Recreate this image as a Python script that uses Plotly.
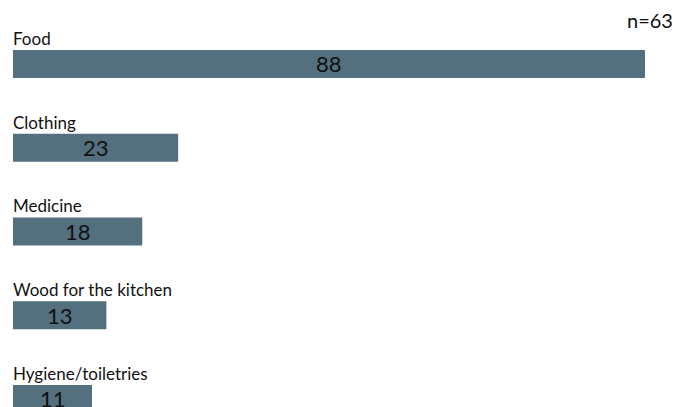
import plotly.graph_objects as go

categories = ["Food", "Clothing", "Medicine", "Wood for the kitchen", "Hygiene/toiletries"]
values = [88, 23, 18, 13, 11]
sample_note = "n=63"

bar_color = "#546f7e"
font_family = "Lato, 'Open Sans', sans-serif"

fig = go.Figure()
fig.add_trace(go.Bar(
    x=values,
    y=categories,
    orientation="h",
    width=0.334,
    marker=dict(color=bar_color, line=dict(width=0)),
    hoverinfo="skip",
))

annotations = []
for cat, val in zip(categories, values):
    # category name sitting just above its bar
    annotations.append(dict(
        x=0, y=cat, xref="x", yref="y",
        text=cat, showarrow=False,
        xanchor="left", yanchor="bottom",
        yshift=13, xshift=-2,
        font=dict(family=font_family, size=17, color="#111111"),
    ))
    # value centred inside the bar
    annotations.append(dict(
        x=val / 2, y=cat, xref="x", yref="y",
        text=str(val), showarrow=False,
        xanchor="center", yanchor="middle",
        font=dict(family=font_family, size=22, color="#111111"),
    ))

annotations.append(dict(
    x=1, y=1 - 20 / 407, xref="paper", yref="paper",
    text=sample_note, showarrow=False,
    xanchor="right", yanchor="middle", xshift=2,
    font=dict(family=font_family, size=20, color="#111111"),
))

fig.update_layout(
    width=675, height=407,
    margin=dict(l=13, r=2, t=0, b=0),
    paper_bgcolor="white", plot_bgcolor="white",
    showlegend=False,
    xaxis=dict(range=[0, 88 * 660 / 632], visible=False, fixedrange=True),
    yaxis=dict(type="category", categoryorder="array", categoryarray=categories,
               range=[4.096, -0.764], visible=False, fixedrange=True),
    annotations=annotations,
)

fig.write_html("out.html")
